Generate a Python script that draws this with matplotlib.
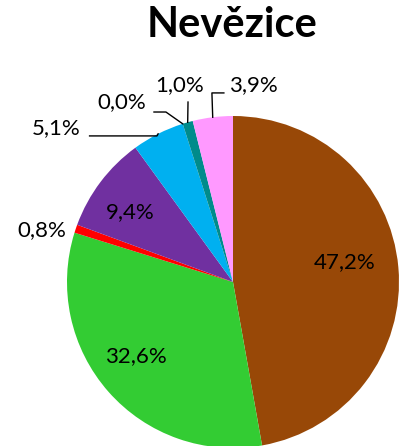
import numpy as np
import matplotlib

matplotlib.use("Agg")
import matplotlib.pyplot as plt  # noqa: E402

plt.rcParams["font.family"] = ["Lato", "DejaVu Sans"]

TITLE = "Nevězice"
shares = [47.2, 32.6, 0.8, 9.4, 5.1, 0.0, 1.0, 3.9]
labels = ["47,2%", "32,6%", "0,8%", "9,4%", "5,1%", "0,0%", "1,0%", "3,9%"]
colors = ["#984807", "#33CC33", "#FF0000", "#7030A0", "#00B0F0",
          "#7F7F7F", "#008B8B", "#FF99FF"]

# label centres in pie-radius units (centre = 0,0)
label_xy = [(0.675, 0.12), (-0.584, -0.446), (-1.151, 0.313), (-0.62, 0.422),
            (-1.066, 0.928), (-0.669, 1.084), (-0.319, 1.187), (0.12, 1.187)]
# leader-line elbows (None = no leader line)
leaders = [None, None, None, None,
           [(-0.458, 0.880), (-0.864, 0.880)],
           [(-0.404, 1.024), (-0.476, 1.024)],
           [(-0.271, 1.084)],
           [(-0.127, 1.139), (-0.055, 1.139)]]

fig = plt.figure(figsize=(4.01, 4.46), dpi=100)
ax = fig.add_axes([67 / 401, -2 / 446, 332 / 401, 332 / 446])
ax.set_aspect("equal")
ax.axis("off")

wedges, _ = ax.pie(shares, colors=colors, startangle=90, counterclock=False,
                   radius=1.0, center=(0, 0), frame=False)
ax.set_xlim(-1, 1)
ax.set_ylim(-1, 1)

for w, lab, (tx, ty), lead in zip(wedges, labels, label_xy, leaders):
    ax.text(tx, ty, lab, ha="center", va="center", fontsize=16, color="black",
            clip_on=False)
    if lead is not None:
        mid = np.deg2rad((w.theta1 + w.theta2) / 2)
        pts = [(np.cos(mid), np.sin(mid))] + lead
        xs, ys = zip(*pts)
        ax.plot(xs, ys, color="black", lw=1.0, clip_on=False)

fig.text(232 / 401, 1 - 25 / 446, TITLE, ha="center", va="center",
         fontsize=30, fontweight="bold")

fig.savefig("out.png", dpi=100)
